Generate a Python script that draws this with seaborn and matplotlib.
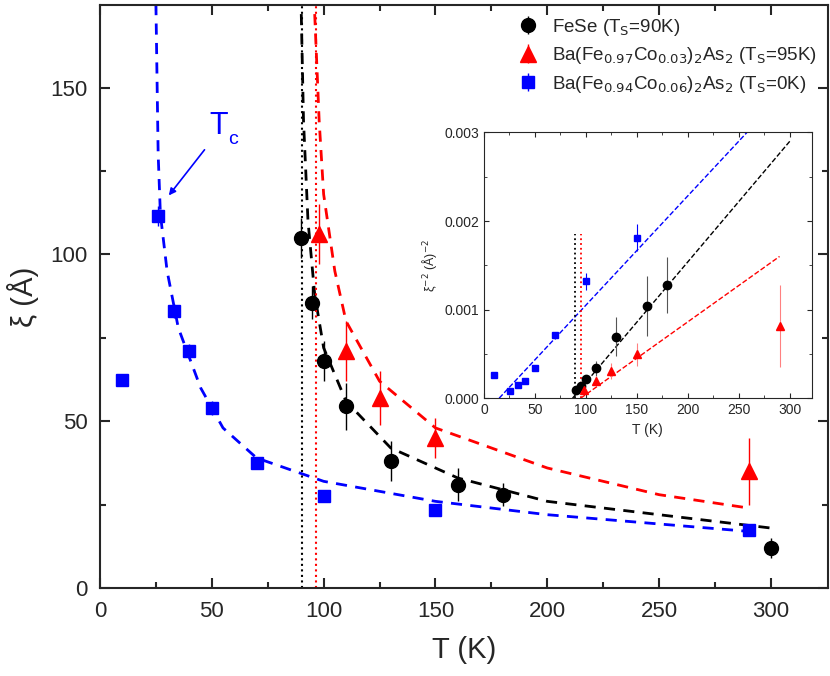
import numpy as np
import matplotlib.pyplot as plt
import seaborn as sns

sns.set_style("ticks")
plt.rcParams['font.family'] = ['Liberation Sans', 'DejaVu Sans']

# data
T_fese = np.array([90, 95, 100, 110, 130, 160, 180, 300])
xi_fese = np.array([105, 85.5, 68, 54.5, 38, 31, 28, 12])
err_fese = np.array([6, 5, 6, 7, 6, 5, 3.5, 3])
T_co3 = np.array([98, 110, 125, 150, 290])
xi_co3 = np.array([106, 71, 57, 45, 35])
err_co3 = np.array([9, 9, 8, 6, 10])
T_co6 = np.array([10, 26, 33, 40, 50, 70, 100, 150, 290])
xi_co6 = np.array([62.5, 111.5, 83, 71, 54, 37.5, 27.5, 23.5, 17.5])
err_co6 = np.array([1, 3, 2, 2, 2, 1, 1, 1, 0.4])

# guide curves
fit_co6_T = [25, 26, 27, 30, 35, 45, 55, 70, 100, 150, 200, 290]
fit_co6_xi = [175, 130, 112, 95, 78, 60, 48, 39, 32, 26, 22, 17]
fit_fese_T = [90, 91, 93, 96, 100, 110, 130, 160, 200, 250, 300]
fit_fese_xi = [172, 140, 110, 88, 72, 56, 42, 33, 26, 22, 18]
fit_co3_T = [96, 98, 100, 105, 110, 125, 150, 200, 250, 290]
fit_co3_xi = [172, 140, 118, 95, 80, 62, 48, 36, 28, 24]

# inset linear fits (endpoints)
lin_co6 = ([15, 258], [0, 0.003])
lin_fese = ([87, 300], [0, 0.0029])
lin_co3 = ([95, 290], [0, 0.0016])

blue, red, black = '#0000ff', '#ff0000', 'black'
fig = plt.figure(figsize=(8.3, 6.76), dpi=100)
ax = fig.add_axes([0.1205, 0.130, 0.877, 0.862])

ax.plot(fit_co6_T, fit_co6_xi, '--', color=blue, lw=2, dashes=(4, 3))
ax.plot(fit_fese_T, fit_fese_xi, '--', color=black, lw=2, dashes=(4, 3))
ax.plot(fit_co3_T, fit_co3_xi, '--', color=red, lw=2, dashes=(4, 3))
ax.axvline(90.5, color=black, ls=':', lw=1.5)
ax.axvline(96.5, color=red, ls=':', lw=1.5)

ax.errorbar(T_fese, xi_fese, yerr=err_fese, fmt='o', color=black, ms=10, elinewidth=1,
            label='FeSe (T$_\\mathrm{S}$=90K)')
ax.errorbar(T_co3, xi_co3, yerr=err_co3, fmt='^', color=red, ms=11, elinewidth=1,
            label='Ba(Fe$_{0.97}$Co$_{0.03}$)$_2$As$_2$ (T$_\\mathrm{S}$=95K)')
ax.errorbar(T_co6, xi_co6, yerr=err_co6, fmt='s', color=blue, ms=9, elinewidth=1,
            label='Ba(Fe$_{0.94}$Co$_{0.06}$)$_2$As$_2$ (T$_\\mathrm{S}$=0K)')

ax.annotate('', xy=(30, 117), xytext=(47.5, 132),
            arrowprops=dict(arrowstyle='-|>', color=blue, lw=1.2))
ax.text(49, 136, 'T', color=blue, fontsize=22)
ax.text(57.5, 133, 'c', color=blue, fontsize=14)

ax.set_xlim(0, 325.5)
ax.set_ylim(0, 174.6)
ax.set_xticks([0, 50, 100, 150, 200, 250, 300])
ax.set_yticks([0, 50, 100, 150])
ax.set_xticks(np.arange(25, 325, 50), minor=True)
ax.set_yticks([25, 75, 125], minor=True)
ax.tick_params(which='both', direction='in', top=True, right=True, width=1.5,
               labelsize=16, pad=9)
ax.tick_params(which='major', length=7)
ax.tick_params(which='minor', length=4)
for s in ax.spines.values():
    s.set_linewidth(1.5)
ax.set_xlabel('T (K)', fontsize=21, labelpad=10)
ax.set_ylabel('ξ (Å)', fontsize=21, labelpad=8)
leg = ax.legend(loc='upper right', frameon=False, fontsize=13.5, handletextpad=0.3,
                borderaxespad=0.2, labelspacing=0.4)

# inset
ins = fig.add_axes([0.583, 0.411, 0.395, 0.393])
ins.plot(*lin_co6, '--', color=blue, lw=1)
ins.plot(*lin_fese, '--', color=black, lw=1)
ins.plot(*lin_co3, '--', color=red, lw=1)
ins.plot([89, 89], [0, 0.00185], ':', color=black, lw=1.3)
ins.plot([95, 95], [0, 0.00185], ':', color=red, lw=1.3)
ins.errorbar(T_fese, xi_fese ** -2.0, yerr=2 * err_fese / xi_fese ** 3, fmt='o',
             color=black, ms=6, elinewidth=0.8, ecolor='#555555')
ins.errorbar(T_co3, xi_co3 ** -2.0, yerr=2 * err_co3 / xi_co3 ** 3, fmt='^',
             color=red, ms=6, elinewidth=0.8, ecolor='#ff8080')
ins.errorbar(T_co6, xi_co6 ** -2.0, yerr=2 * err_co6 / xi_co6 ** 3, fmt='s',
             color=blue, ms=5, elinewidth=0.8)
ins.set_xlim(0, 321.6)
ins.set_ylim(0, 0.003)
ins.set_xticks([0, 50, 100, 150, 200, 250, 300])
ins.set_yticks([0, 0.001, 0.002, 0.003])
ins.set_yticklabels(['0.000', '0.001', '0.002', '0.003'])
ins.set_xticks(np.arange(25, 325, 50), minor=True)
ins.set_yticks([0.0005, 0.0015, 0.0025], minor=True)
ins.tick_params(which='both', direction='in', top=True, right=True, labelsize=10)
ins.tick_params(which='minor', length=2)
ins.set_xlabel('T (K)', fontsize=10)
ins.set_ylabel('ξ$^{-2}$ (Å)$^{-2}$', fontsize=9)

fig.savefig('out.png', dpi=100)
